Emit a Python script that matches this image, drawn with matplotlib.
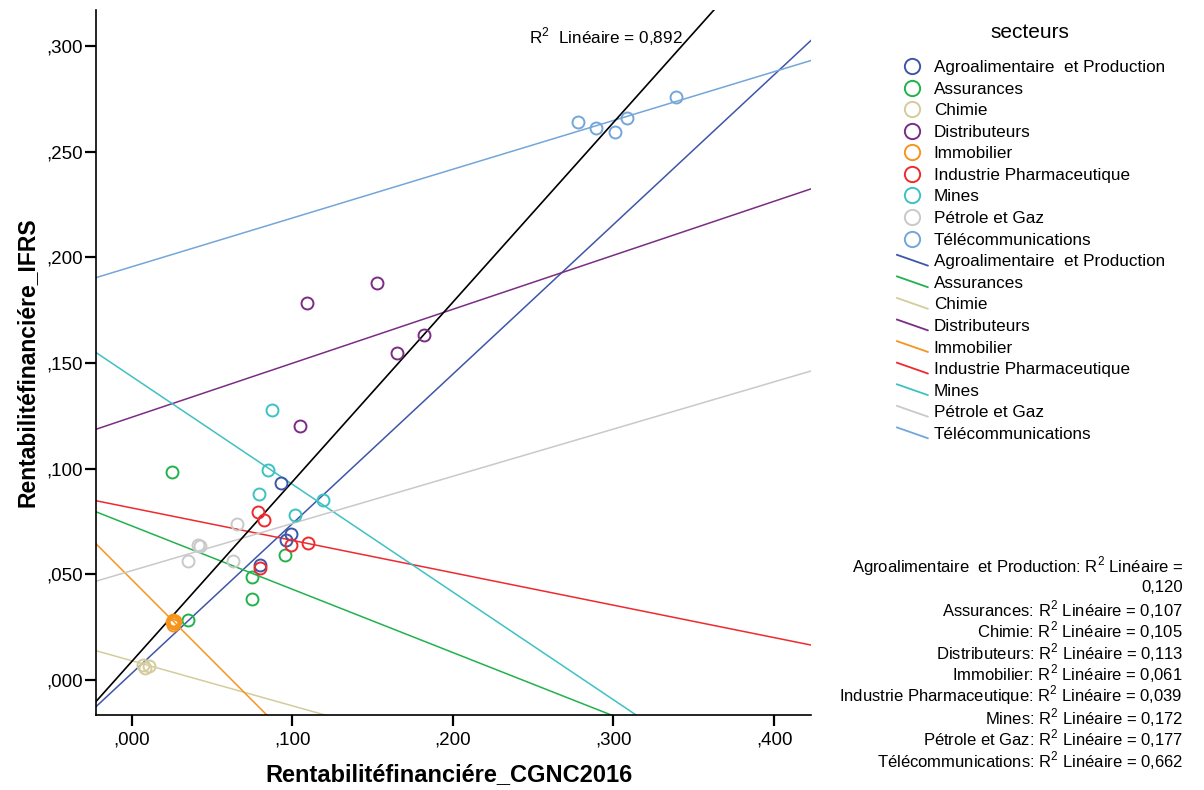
import matplotlib
matplotlib.use("Agg")
import matplotlib.pyplot as plt
from matplotlib.lines import Line2D
from matplotlib.legend_handler import HandlerBase
import numpy as np

plt.rcParams['font.family'] = ['Liberation Sans', 'DejaVu Sans']
plt.rcParams['mathtext.fontset'] = 'custom'
plt.rcParams['mathtext.rm'] = 'Liberation Sans'

# sectors and their colours
sectors = ["Agroalimentaire  et Production", "Assurances", "Chimie", "Distributeurs",
           "Immobilier", "Industrie Pharmaceutique", "Mines", "Pétrole et Gaz",
           "Télécommunications"]
colors = ["#3E56A8", "#22B24C", "#D4CC9C", "#7B2C84", "#F7941D",
          "#EE2A2F", "#3EC1C3", "#C9C9C9", "#74A6D9"]

# points (CGNC2016, IFRS)
agro_x = [0.0928, 0.0990, 0.0959, 0.0799]
agro_y = [0.0933, 0.0691, 0.0662, 0.0544]
assur_x = [0.0249, 0.0955, 0.0751, 0.0751, 0.0352]
assur_y = [0.0985, 0.0591, 0.0486, 0.0382, 0.0284]
chimie_x = [0.0072, 0.0108, 0.0083]
chimie_y = [0.0071, 0.0066, 0.0055]
distrib_x = [0.1092, 0.1527, 0.1652, 0.1820, 0.1048]
distrib_y = [0.1783, 0.1878, 0.1547, 0.1632, 0.1202]
immo_x = [0.0255, 0.0265, 0.0258, 0.0270, 0.0262, 0.0252]
immo_y = [0.0285, 0.0270, 0.0262, 0.0280, 0.0276, 0.0272]
pharma_x = [0.0788, 0.0824, 0.0990, 0.1100, 0.0799]
pharma_y = [0.0796, 0.0757, 0.0639, 0.0650, 0.0528]
mines_x = [0.0875, 0.0851, 0.0795, 0.1189, 0.1017]
mines_y = [0.1277, 0.0993, 0.0878, 0.0851, 0.0781]
petrole_x = [0.0658, 0.0415, 0.0425, 0.0349, 0.0629]
petrole_y = [0.0738, 0.0639, 0.0634, 0.0563, 0.0563]
telecom_x = [0.2777, 0.2889, 0.3009, 0.3082, 0.3389]
telecom_y = [0.2638, 0.2610, 0.2591, 0.2657, 0.2759]

xs = [agro_x, assur_x, chimie_x, distrib_x, immo_x, pharma_x, mines_x, petrole_x, telecom_x]
ys = [agro_y, assur_y, chimie_y, distrib_y, immo_y, pharma_y, mines_y, petrole_y, telecom_y]

# fit lines per sector (slope, intercept) as drawn on the chart
slopes = [0.7081, -0.2997, -0.2133, 0.2555, -0.7617, -0.1534, -0.510, 0.2234, 0.2308]
intercepts = [0.0031, 0.0729, 0.0091, 0.1243, 0.0475, 0.0814, 0.1436, 0.0517, 0.1955]
r2_values = ["0,120", "0,107", "0,105", "0,113", "0,061", "0,039", "0,172", "0,177", "0,662"]

# overall fit
total_slope = 0.8504
total_intercept = 0.0087
total_r2 = "0,892"

xticks = [0.0, 0.1, 0.2, 0.3, 0.4]
yticks = [0.0, 0.05, 0.1, 0.15, 0.2, 0.25, 0.3]
xlim = (-0.0224, 0.423)
ylim = (-0.0166, 0.317)


class DiagHandler(HandlerBase):
    """SPSS style legend line: short diagonal stroke going down to the right."""
    def create_artists(self, legend, orig_handle, xdescent, ydescent,
                       width, height, fontsize, trans):
        ln = Line2D([-xdescent, -xdescent + width],
                    [-ydescent + height * 0.95, -ydescent + height * 0.05],
                    color=orig_handle.get_color(), lw=orig_handle.get_linewidth(),
                    transform=trans)
        return [ln]


def fmt(v):
    s = f"{v:.3f}".replace(".", ",")
    return s[1:] if s.startswith("0") else s


fig = plt.figure(figsize=(12.04, 7.90), dpi=100)
ax = fig.add_axes([0.0795, 0.0949, 0.5941, 0.8924])

xx = np.array(xlim)
for i, name in enumerate(sectors):
    ax.plot(xx, slopes[i] * xx + intercepts[i], color=colors[i], lw=1.1, zorder=2)
ax.plot(xx, total_slope * xx + total_intercept, color="black", lw=1.2, zorder=2)

for i, name in enumerate(sectors):
    ax.plot(xs[i], ys[i], ls="none", marker="o", ms=8.6, mfc="none",
            mec=colors[i], mew=1.4, zorder=3)

ax.set_xlim(*xlim)
ax.set_ylim(*ylim)
ax.set_xticks(xticks)
ax.set_yticks(yticks)
ax.set_xticklabels([fmt(v) for v in xticks])
ax.set_yticklabels([fmt(v) for v in yticks])
ax.tick_params(direction="out", length=8, width=1.6, labelsize=13.5)
ax.tick_params(axis="y", pad=1)
ax.tick_params(axis="x", pad=4)
for s in ["top", "right"]:
    ax.spines[s].set_visible(False)
for s in ["left", "bottom"]:
    ax.spines[s].set_linewidth(1.2)

ax.set_xlabel("Rentabilitéfinanciére_CGNC2016", fontsize=17, fontweight="bold",
              x=0.494, labelpad=10)
ax.set_ylabel("Rentabilitéfinanciére_IFRS", fontsize=16.5, fontweight="bold", labelpad=6)

ax.text(0.821, 0.962, f"R$^2$  Linéaire = {total_r2}", transform=ax.transAxes,
        ha="right", va="center", fontsize=12.3)

# legend: circles then fit lines
fig.text(1030 / 1204, 1 - 32 / 790, "secteurs", ha="center", va="center", fontsize=15)
marker_handles = [Line2D([], [], ls="none", marker="o", ms=11, mfc="none",
                         mec=c, mew=1.4) for c in colors]
line_handles = [Line2D([], [], color=c, lw=1.3) for c in colors]
handler_map = {h: DiagHandler() for h in line_handles}
leg = fig.legend(marker_handles + line_handles, sectors + sectors,
                 loc="upper left", bbox_to_anchor=(897 / 1204, 1 - 60 / 790), frameon=False,
                 fontsize=12.3, borderpad=0, borderaxespad=0,
                 handler_map=handler_map, handlelength=1.8, handletextpad=0.35,
                 labelspacing=0.385, numpoints=1)

# R² per sector, one text per line, right aligned
r2_lines = [f"{sectors[0]}: R$^2$ Linéaire =", r2_values[0]]
r2_lines += [f"{sectors[i]}: R$^2$ Linéaire = {r2_values[i]}" for i in range(1, len(sectors))]
for k, line in enumerate(r2_lines):
    fig.text(0.9825, 1 - (566 + 21.6 * k) / 790, line, ha="right", va="center",
             fontsize=12.0)

fig.savefig("out.png", dpi=100)
